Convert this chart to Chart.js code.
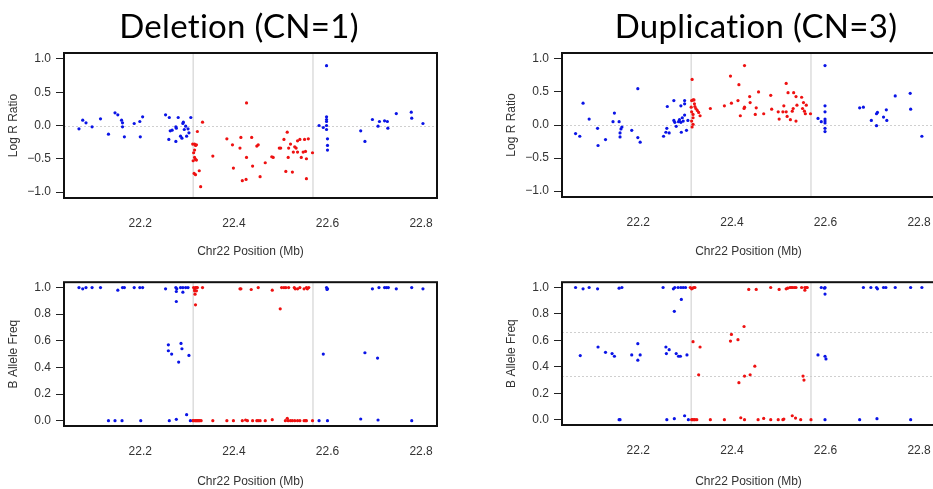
<!DOCTYPE html>
<html><head><meta charset="utf-8">
<script src="https://cdn.jsdelivr.net/npm/chart.js@4/dist/chart.umd.min.js"></script>
<style>
html,body{margin:0;padding:0;background:#fff;width:933px;height:489px;overflow:hidden;position:relative}
canvas{position:absolute}
.ttl{position:absolute;font-family:Lato,'Open Sans',sans-serif;font-size:33px;line-height:34px;color:#000;white-space:nowrap;transform:translateX(-50%);letter-spacing:0.3px}
</style></head><body>
<canvas id="c1" width="470" height="225" style="left:0;top:40px"></canvas>
<canvas id="c2" width="470" height="225" style="left:498px;top:40px"></canvas>
<canvas id="c3" width="470" height="225" style="left:0;top:270px"></canvas>
<canvas id="c4" width="470" height="225" style="left:498px;top:270px"></canvas>
<div class="ttl" style="left:239px;top:8px">Deletion (CN=1)</div>
<div class="ttl" style="left:756px;top:8px">Duplication (CN=3)</div>
<script>
// ---------- axis ticks ----------
const xTicks = [22.2, 22.4, 22.6, 22.8];
const lrrTicks = [-1, -0.5, 0, 0.5, 1];
const bafTicks = [0, 0.2, 0.4, 0.6, 0.8, 1];
const breakpoints = [22.313, 22.569];
const lrrRefLines = [0];
const dupBafRefLines = [1/3, 2/3];

// ---------- Deletion: Log R Ratio ----------
const delLrrNormal = [[22.069,-0.05],[22.077,0.08],[22.084,0.04],[22.097,-0.02],[22.115,0.10],[22.132,-0.13],[22.146,0.19],[22.152,0.16],[22.160,0.08],[22.162,0.04],[22.162,-0.02],[22.166,-0.17],[22.187,0.03],[22.199,0.06],[22.200,-0.17],[22.205,0.13],[22.254,0.16],[22.262,0.12],[22.261,-0.21],[22.264,-0.08],[22.268,-0.07],[22.276,-0.02],[22.276,-0.24],[22.277,-0.04],[22.281,0.12],[22.286,-0.16],[22.289,-0.19],[22.291,0.03],[22.292,0.05],[22.294,-0.06],[22.297,-0.01],[22.299,-0.16],[22.302,-0.05],[22.304,-0.11],[22.308,0.12],
[22.582,0.00],[22.591,-0.03],[22.598,0.90],[22.598,0.13],[22.598,0.09],[22.598,0.06],[22.598,0.00],[22.598,-0.06],[22.600,-0.20],[22.600,-0.30],[22.600,-0.37],[22.671,-0.08],[22.680,-0.24],[22.696,0.09],[22.708,-0.01],[22.711,0.06],[22.722,0.07],[22.728,0.06],[22.729,-0.04],[22.747,0.18],[22.779,0.20],[22.780,0.11],[22.804,0.03]];
const delLrrCnv = [[22.312,-0.28],[22.316,-0.28],[22.318,-0.30],[22.320,-0.29],[22.314,-0.41],[22.316,-0.37],[22.316,-0.48],[22.318,-0.51],[22.320,-0.52],[22.313,-0.53],[22.315,-0.72],[22.318,-0.74],[22.322,-0.09],[22.326,-0.68],[22.329,-0.92],[22.333,0.05],[22.355,-0.46],[22.385,-0.20],[22.397,-0.29],[22.399,-0.64],[22.413,-0.34],[22.415,-0.18],[22.418,-0.83],[22.426,-0.81],[22.427,-0.48],[22.427,0.34],[22.438,-0.18],[22.440,-0.61],[22.449,-0.31],[22.452,-0.29],[22.456,-0.77],[22.467,-0.56],[22.481,-0.47],[22.484,-0.48],[22.497,-0.34],[22.500,-0.34],[22.507,-0.21],[22.511,-0.69],[22.514,-0.10],[22.516,-0.48],[22.517,-0.34],[22.521,-0.28],[22.525,-0.70],[22.527,-0.40],[22.530,-0.32],[22.533,-0.34],[22.536,-0.40],[22.536,-0.23],[22.541,-0.21],[22.544,-0.48],[22.548,-0.40],[22.551,-0.21],[22.553,-0.39],[22.555,-0.80],[22.555,-0.50],[22.559,-0.20],[22.568,-0.41]];

// ---------- Duplication: Log R Ratio ----------
const dupLrrNormal = [[22.066,-0.13],[22.075,-0.17],[22.082,0.33],[22.095,0.09],[22.113,-0.05],[22.114,-0.31],[22.130,-0.22],[22.146,0.05],[22.149,0.18],[22.159,0.05],[22.161,-0.12],[22.161,-0.18],[22.163,-0.06],[22.165,-0.03],[22.186,-0.08],[22.199,0.55],[22.199,-0.19],[22.204,-0.26],[22.254,-0.17],[22.259,-0.11],[22.261,-0.05],[22.262,0.28],[22.266,-0.12],[22.276,0.37],[22.276,0.07],[22.278,0.04],[22.281,-0.02],[22.286,0.05],[22.288,0.08],[22.291,0.04],[22.292,-0.11],[22.291,0.29],[22.294,0.11],[22.299,0.37],[22.299,0.32],[22.299,0.15],[22.303,-0.08],[22.306,0.07],[22.296,0.06],
[22.584,0.10],[22.591,0.05],[22.599,0.90],[22.599,0.29],[22.599,0.20],[22.599,0.09],[22.599,0.06],[22.599,0.03],[22.599,-0.05],[22.599,-0.10],[22.673,0.26],[22.681,0.27],[22.698,0.07],[22.709,0.17],[22.711,0.19],[22.709,-0.01],[22.724,0.12],[22.730,0.23],[22.731,0.07],[22.749,0.44],[22.781,0.48],[22.782,0.24],[22.806,-0.17]];
const dupLrrCnv = [[22.315,0.69],[22.313,0.27],[22.314,0.37],[22.317,0.38],[22.319,0.38],[22.314,0.20],[22.317,0.16],[22.317,0.11],[22.314,0.06],[22.317,0.01],[22.315,-0.03],[22.321,0.28],[22.323,0.25],[22.326,0.22],[22.329,0.19],[22.332,0.14],[22.320,0.32],[22.354,0.25],[22.384,0.29],[22.397,0.74],[22.399,0.33],[22.413,0.37],[22.415,0.61],[22.418,0.14],[22.426,0.25],[22.427,0.27],[22.427,0.90],[22.438,0.43],[22.439,0.34],[22.450,0.16],[22.452,0.26],[22.457,0.50],[22.468,0.17],[22.483,0.45],[22.485,0.24],[22.499,0.20],[22.501,0.09],[22.509,0.20],[22.511,0.29],[22.516,0.63],[22.516,0.20],[22.518,0.13],[22.520,0.49],[22.525,0.08],[22.529,0.21],[22.531,0.25],[22.532,0.49],[22.537,0.06],[22.537,0.43],[22.539,0.30],[22.549,0.42],[22.551,0.25],[22.553,0.34],[22.555,0.21],[22.557,0.17],[22.559,0.30],[22.568,0.17]];

// ---------- Deletion: B Allele Freq ----------
const delBafNormal = [[22.069,1.0],[22.077,0.99],[22.084,1.0],[22.097,1.0],[22.115,1.0],[22.152,0.98],[22.162,1.0],[22.166,1.0],[22.187,1.0],[22.199,1.0],[22.205,1.0],[22.254,0.99],[22.276,1.0],[22.278,0.99],[22.277,0.97],[22.286,1.0],[22.291,1.0],[22.297,1.0],[22.302,1.0],[22.291,0.965],
[22.277,0.895],[22.260,0.57],[22.260,0.525],[22.267,0.50],[22.282,0.44],[22.287,0.58],[22.289,0.54],[22.304,0.49],[22.299,0.045],
[22.132,0],[22.146,0],[22.161,0],[22.201,0],[22.262,0],[22.277,0.01],[22.307,0],
[22.598,1.0],[22.600,0.99],[22.599,0.985],[22.696,0.99],[22.710,1.0],[22.722,1.0],[22.726,1.0],[22.730,1.0],[22.747,0.99],[22.780,1.0],[22.804,0.99],
[22.591,0.50],[22.680,0.51],[22.707,0.47],
[22.582,0],[22.600,0],[22.671,0.0125],[22.708,0.005],[22.780,0]];
const delBafCnv = [[22.314,1.0],[22.316,0.99],[22.318,1.0],[22.320,1.0],[22.322,1.0],[22.316,0.975],[22.317,0.95],[22.320,0.975],[22.333,1.0],[22.318,0.87],
[22.413,0.99],[22.415,0.99],[22.437,0.985],[22.452,1.0],[22.482,0.98],[22.499,0.84],[22.502,1.0],[22.507,1.0],[22.511,1.0],[22.517,1.0],[22.529,1.0],[22.531,0.99],[22.536,0.99],[22.541,1.0],[22.550,0.99],[22.555,1.0],[22.557,0.99],[22.560,1.0],
[22.312,0],[22.314,0],[22.317,0],[22.319,0],[22.321,0],[22.323,0],[22.325,0],[22.327,0],[22.330,0],[22.355,0],[22.385,0],[22.399,0],[22.418,0],[22.425,0.005],[22.429,0],[22.440,0],[22.449,0],[22.452,0],[22.456,0],[22.467,0],[22.482,0.0075],[22.510,0],[22.514,0.0175],[22.516,0],[22.521,0],[22.525,0],[22.530,0],[22.536,0],[22.541,0],[22.550,0],[22.553,0],[22.555,0],[22.568,0]];

// ---------- Duplication: B Allele Freq ----------
const dupBafNormal = [[22.066,1.0],[22.082,0.99],[22.095,1.0],[22.113,0.99],[22.159,0.995],[22.165,1.0],[22.253,1.0],[22.275,0.99],[22.278,1.0],[22.285,1.0],[22.291,1.0],[22.296,1.0],[22.301,1.0],
[22.277,0.82],[22.292,0.91],
[22.076,0.485],[22.114,0.55],[22.130,0.51],[22.144,0.50],[22.149,0.48],[22.186,0.49],[22.199,0.575],[22.199,0.45],[22.204,0.49],[22.259,0.55],[22.266,0.53],[22.260,0.50],[22.281,0.50],[22.286,0.48],[22.290,0.48],[22.304,0.49],
[22.159,0],[22.161,0],[22.261,0],[22.277,0.0075],[22.299,0.03],[22.307,0],
[22.591,1.0],[22.598,0.995],[22.599,1.0],[22.599,0.95],[22.681,1.0],[22.697,1.0],[22.709,1.0],[22.711,0.99],[22.724,1.0],[22.729,1.0],[22.749,1.0],[22.782,1.0],[22.806,1.0],
[22.584,0.49],[22.599,0.48],[22.601,0.46],
[22.599,0],[22.673,0],[22.710,0.0075],[22.782,0]];
const dupBafCnv = [[22.311,1.0],[22.314,0.99],[22.316,0.995],[22.319,1.0],[22.321,1.0],[22.436,0.985],[22.452,0.985],[22.483,1.0],[22.501,0.985],[22.516,0.99],[22.519,0.995],[22.524,1.0],[22.527,1.0],[22.530,1.0],[22.534,1.0],[22.537,1.0],[22.549,1.0],[22.556,1.0],[22.559,1.0],[22.561,1.0],[22.556,0.98],
[22.317,0.59],[22.332,0.55],[22.329,0.34],[22.399,0.645],[22.397,0.595],[22.413,0.605],[22.426,0.705],[22.415,0.28],[22.427,0.33],[22.439,0.34],[22.449,0.405],[22.552,0.33],[22.554,0.30],
[22.314,0],[22.316,0],[22.319,0],[22.321,0],[22.325,0],[22.354,0],[22.384,0],[22.419,0.015],[22.427,0],[22.456,0],[22.468,0.01],[22.483,0],[22.499,0],[22.509,0],[22.511,0.005],[22.529,0.03],[22.536,0.0125],[22.547,0],[22.569,0]];

// ---------- drawing ----------
const FONT = "'Liberation Sans', Arial, sans-serif";
const TXT = '#333333';

const panelDecor = {
  id: 'panelDecor',
  beforeDatasetsDraw(chart, args, opts) {
    const {ctx, chartArea: a, scales: {x, y}} = chart;
    ctx.save();
    ctx.beginPath(); ctx.rect(a.left, a.top, a.right - a.left, a.bottom - a.top); ctx.clip();
    ctx.strokeStyle = '#d4d4d4'; ctx.lineWidth = 1.2;
    (opts.vlines || []).forEach(v => {
      const px = x.getPixelForValue(v);
      ctx.beginPath(); ctx.moveTo(px, a.top); ctx.lineTo(px, a.bottom); ctx.stroke();
    });
    ctx.setLineDash([2, 2]); ctx.strokeStyle = '#cfcfcf'; ctx.lineWidth = 1;
    (opts.hlines || []).forEach(v => {
      const py = Math.round(y.getPixelForValue(v)) + 0.5;
      ctx.beginPath(); ctx.moveTo(a.left, py); ctx.lineTo(a.right, py); ctx.stroke();
    });
    ctx.restore();
  },
  afterDraw(chart) {
    const {ctx, chartArea: a} = chart;
    ctx.save();
    ctx.strokeStyle = '#111'; ctx.lineWidth = 2;
    ctx.strokeRect(a.left, a.top, a.right - a.left, a.bottom - a.top);
    ctx.restore();
  }
};

function fmt(v) { return (v < 0 ? '\u2212' : '') + Math.abs(v).toFixed(1); }

function makePanel(id, normal, cnv, yLabel, yMin, yMax, yTicks, hlines, padTop, xHeight) {
  const toPts = arr => arr.map(p => ({x: p[0], y: p[1]}));
  new Chart(document.getElementById(id), {
    type: 'scatter',
    data: {datasets: [
      {data: toPts(normal), backgroundColor: '#0a14e6', pointRadius: 1.6, pointBorderWidth: 0, pointHoverRadius: 1.6},
      {data: toPts(cnv), backgroundColor: '#ee1111', pointRadius: 1.6, pointBorderWidth: 0, pointHoverRadius: 1.6}
    ]},
    options: {
      responsive: false, animation: false, devicePixelRatio: 1,
      layout: {padding: {top: padTop, right: 33, left: 0, bottom: 0}},
      plugins: {legend: {display: false}, tooltip: {enabled: false},
        panelDecor: {vlines: breakpoints, hlines: hlines}},
      scales: {
        x: {
          type: 'linear', min: 22.037, max: 22.834,
          afterBuildTicks: s => { s.ticks = xTicks.map(v => ({value: v})); },
          afterFit: s => { s.height = xHeight; },
          grid: {display: false, drawTicks: false},
          border: {display: false},
          ticks: {font: {family: FONT, size: 12}, color: TXT, padding: 18, maxRotation: 0,
                  callback: v => v.toFixed(1)},
          title: {display: true, text: 'Chr22 Position (Mb)', font: {family: FONT, size: 12}, color: TXT,
                  padding: {top: 0, bottom: 6}}
        },
        y: {
          type: 'linear', min: yMin, max: yMax,
          afterBuildTicks: s => { s.ticks = yTicks.map(v => ({value: v})); },
          afterFit: s => { s.width = 64; },
          grid: {display: true, drawOnChartArea: false, drawTicks: true, tickLength: 8, color: '#222', lineWidth: 1},
          border: {display: false},
          ticks: {font: {family: FONT, size: 12}, color: TXT, padding: 5, callback: v => fmt(v)},
          title: {display: true, text: yLabel, font: {family: FONT, size: 12}, color: TXT,
                  padding: {top: 6, bottom: 0}}
        }
      }
    },
    plugins: [panelDecor]
  });
}

makePanel('c1', delLrrNormal, delLrrCnv, 'Log R Ratio', -1.09, 1.09, lrrTicks, lrrRefLines, 13, 67);
makePanel('c2', dupLrrNormal, dupLrrCnv, 'Log R Ratio', -1.09, 1.09, lrrTicks, lrrRefLines, 13, 68);
makePanel('c3', delBafNormal, delBafCnv, 'B Allele Freq', -0.04, 1.04, bafTicks, [], 12, 69);
makePanel('c4', dupBafNormal, dupBafCnv, 'B Allele Freq', -0.04, 1.04, bafTicks, dupBafRefLines, 11, 70);
</script>
</body></html>
